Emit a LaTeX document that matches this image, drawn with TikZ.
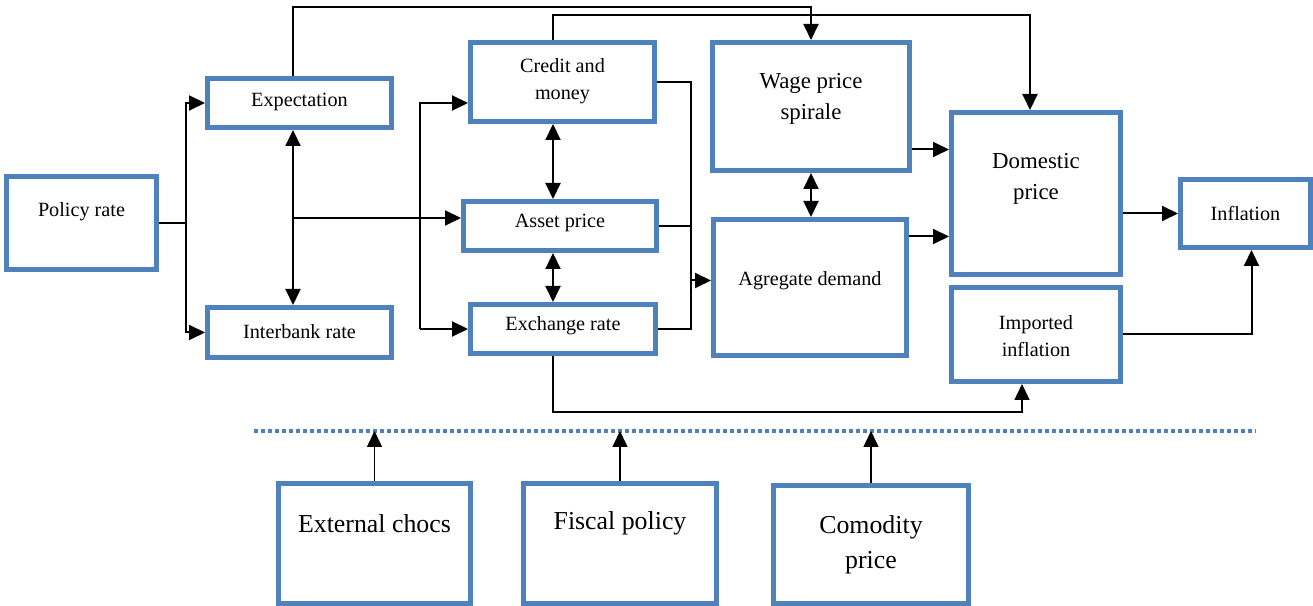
\documentclass[tikz,border=0pt]{standalone}
\usepackage{fontspec}
\setmainfont{Liberation Serif}
\usepackage{tikz}
\usetikzlibrary{positioning,arrows.meta,calc}
\definecolor{azul}{HTML}{4F81BD}

\begin{document}
\begin{tikzpicture}[x=0.2mm, y=-0.2mm,
  blk/.style={draw=azul, line width=1mm, fill=white},
  lbl/.style={align=center, inner sep=0pt},
  sm/.style={font=\fontsize{11.5}{15.3}\selectfont},
  md/.style={font=\fontsize{13}{17.6}\selectfont},
  lg/.style={font=\fontsize{14.7}{20}\selectfont},
  ln/.style={line width=0.4mm},
  arr/.style={ln, -{Triangle[length=3.2mm, width=3mm]}},
  darr/.style={ln, {Triangle[length=3.2mm, width=3mm]}-{Triangle[length=3.2mm, width=3mm]}},
  sep/.style={draw=azul, line width=0.8mm, dash pattern=on 0.8mm off 0.6mm}]
  \useasboundingbox (0,0) rectangle (1313,606);
  % boxes: name, centre, width, height, text shift, size, text
  \newcommand{\blk}[7]{%
    \node[blk, minimum width=#3*0.2mm, minimum height=#4*0.2mm] (#1) at (#2) {};
    \node[lbl, #6] (#1-t) at ($(#1)+(0,#5)$) {#7};}
  \blk{pol}{81.5,223}{150}{93}{-11}{sm}{Policy rate}
  \blk{exp}{299.5,103}{184}{49}{-1}{sm}{Expectation}
  \blk{ibr}{299.5,332.5}{184}{50}{-1}{sm}{Interbank rate}
  \blk{crd}{562.5,82}{184}{79}{-1}{sm}{Credit and\\money}
  \blk{ast}{560,226}{193}{49}{-3}{sm}{Asset price}
  \blk{exr}{563,329}{185}{49}{-3}{sm}{Exchange rate}
  \blk{wag}{811,106.5}{197}{128}{-8}{md}{Wage price\\spirale}
  \blk{agg}{810,287.5}{193}{136}{-7}{sm}{Agregate demand}
  \blk{dom}{1036,193.5}{169}{162}{-15}{md}{Domestic\\price}
  \blk{inf}{1245.5,213.5}{130}{68}{0}{sm}{Inflation}
  \blk{imp}{1036,334.5}{169}{94}{2}{sm}{Imported\\inflation}
  \blk{ext}{374.5,543.5}{192}{120}{-20}{lg}{External chocs}
  \blk{fis}{620,543.5}{193}{120}{-20}{lg}{Fiscal policy}
  \blk{com}{871,544.5}{195}{118}{0}{lg}{Comodity\\price}

  % bus columns and entry points
  \coordinate (bA) at (186,0);
  \coordinate (bB) at (293,0);
  \coordinate (bC) at (420,0);
  \coordinate (bD) at (553,0);
  \coordinate (bE) at (691,0);
  \coordinate (crdIn) at ($(crd.west)+(0,21)$);
  \coordinate (astIn) at ($(ast.west)+(0,-8)$);
  \coordinate (aggIn) at ($(agg.west)+(0,-7)$);
  \coordinate (wagOut) at ($(wag.east)+(0,43)$);
  \coordinate (aggOut) at ($(agg.east)+(0,-51)$);

  % policy rate fork
  \draw[arr] (pol.east) -- (pol.east -| bA) |- (exp.west);
  \draw[arr] (pol.east -| bA) |- (ibr.west);
  \draw[darr] (bB |- exp.south) -- (bB |- ibr.north);
  \draw[arr] (bB |- astIn) -- (astIn);
  \draw[arr] (bB |- exp.north) -- ++(0,-69) -| (wag.north);
  \draw[arr] (bC |- exr.west) |- (crdIn);
  \draw[arr] (bC |- exr.west) -- (exr.west);

  % channels
  \draw[darr] (bD |- crd.south) -- (bD |- ast.north);
  \draw[darr] (bD |- ast.south) -- (bD |- exr.north);
  \draw[arr] (bD |- crd.north) -- ++(0,-25) -| ($(dom.north)+(-6,0)$);
  \draw[ln] (crd.east) -| (exr.east -| bE) -- (exr.east);
  \draw[ln] (ast.east) -- (ast.east -| bE);
  \draw[arr] (bE |- aggIn) -- (aggIn);

  % prices
  \draw[darr] (wag.south) -- (wag.south |- agg.north);
  \draw[arr] (wagOut) -- (wagOut -| dom.west);
  \draw[arr] (aggOut) -- (aggOut -| dom.west);
  \draw[arr] (inf.west -| dom.east) -- (inf.west);
  \draw[arr] (imp.east) -| ($(inf.south)+(6,0)$);
  \draw[arr, line width=0.3mm] (bD |- exr.south) -- ++(0,56) -| ($(imp.south)+(-14,0)$);

  % external factors
  \coordinate (sepL) at (254,431);
  \coordinate (sepR) at (1256,431);
  \draw[sep] (sepL) -- (sepR);
  \foreach \n in {ext,fis,com}
    \draw[arr, line width=0.3mm] (\n.north) -- (\n.north |- sepL);
\end{tikzpicture}
\end{document}
